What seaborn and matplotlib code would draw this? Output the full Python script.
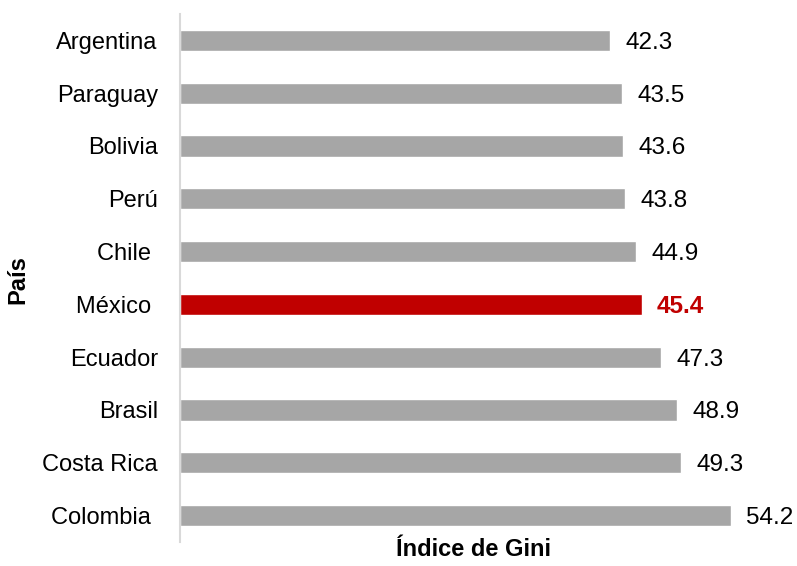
import matplotlib
matplotlib.use("Agg")
import matplotlib.pyplot as plt
import seaborn as sns
import pandas as pd

paises = ["Argentina", "Paraguay", "Bolivia", "Perú", "Chile ", "México ",
          "Ecuador", "Brasil", "Costa Rica", "Colombia "]
gini = [42.3, 43.5, 43.6, 43.8, 44.9, 45.4, 47.3, 48.9, 49.3, 54.2]
destacado = "México "

sns.set_theme(style="white")
plt.rcParams['font.family'] = ['Liberation Sans', 'DejaVu Sans']

df = pd.DataFrame({"País": paises, "Gini": gini})
colores = ["#C00000" if p == destacado else "#A6A6A6" for p in paises]

fig = plt.figure(figsize=(7.97, 5.66), dpi=100)
ax = fig.add_axes([180/797, 1-542/566, (790-180)/797, (542-14)/566])
sns.barplot(data=df, x="Gini", y="País", hue="País", palette=colores,
            legend=False, width=0.4, ax=ax, orient="h", saturation=1)
ax.set_xlim(0, 60)
ax.set_ylim(9.5, -0.5)

for i, (p, v) in enumerate(zip(paises, gini)):
    is_d = p == destacado
    ax.annotate(f"{v:.1f}", xy=(v, i), xytext=(11, 0), textcoords="offset points",
                ha="left", va="center_baseline", fontsize=17.5,
                color="#C00000" if is_d else "black",
                fontweight="bold" if is_d else "normal")

for s in ["top", "right", "bottom"]:
    ax.spines[s].set_visible(False)
ax.spines["left"].set_color("#D9D9D9")
ax.spines["left"].set_linewidth(1.5)
ax.set_xticks([])
ax.tick_params(axis="y", length=0, pad=16, labelsize=17, labelcolor="black")

ax.set_xlabel("Índice de Gini", fontsize=17, fontweight="bold", color="black")
ax.xaxis.set_label_coords((473-180)/610, -(550-542)/528 - 0.0)
ax.xaxis.label.set_va("center")
ax.set_ylabel("País", fontsize=17, fontweight="bold", color="black")
ax.yaxis.set_label_coords(-(180-18)/610, (542-280)/528)
ax.yaxis.label.set_va("center")

fig.savefig("out.png", dpi=100)
